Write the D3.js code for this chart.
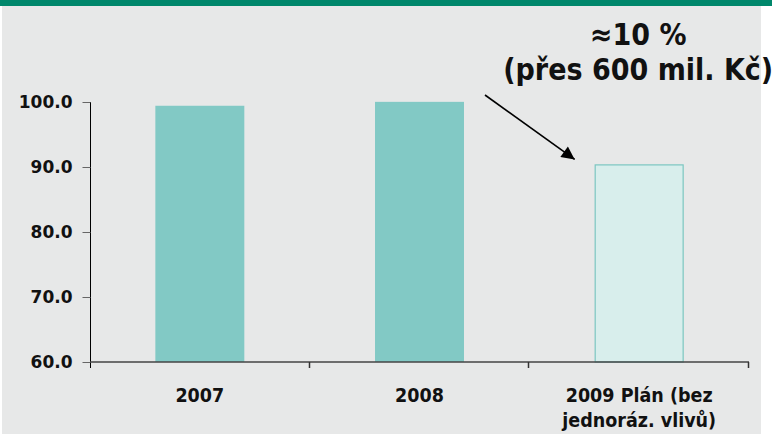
<!DOCTYPE html>
<html lang='cs'>
<head>
  <meta charset='UTF-8'>
  <title>Plán 2009</title>
  <style>
  body { margin: 0; background: #fff; }
  .ylab { font-family: 'DejaVu Sans', sans-serif; font-weight: bold; font-size: 17px; fill: #111; }
  .xlab { font-family: 'DejaVu Sans Condensed', 'DejaVu Sans', sans-serif; font-weight: bold; font-size: 19.5px; fill: #111; }
  .note { font-family: 'DejaVu Sans Condensed', 'DejaVu Sans', sans-serif; font-weight: bold; font-size: 30px; fill: #111; }
  </style>
  <script src='https://d3js.org/d3.v7.min.js'></script>
</head>
<body>
  <script>

  // data
  var categories = ['2007', '2008', '2009 Plán (bez jednoráz. vlivů)'];
  var catLines = [['2007'], ['2008'], ['2009 Plán (bez', 'jednoráz. vlivů)']];
  var values = [99.5, 100.1, 90.4];
  var planned = [false, false, true];
  var yTicks = [60, 70, 80, 90, 100];
  var noteLines = ['≈10 %', '(přes 600 mil. Kč)'];

  var W = 772, H = 434;
  var svg = d3.select('body').append('svg').attr('width', W).attr('height', H);

  // background panel + green band
  svg.append('rect').attr('x', 2).attr('y', 0).attr('width', 759).attr('height', H).attr('fill', '#e7e8e8');
  svg.append('rect').attr('x', 0).attr('y', 0).attr('width', W).attr('height', 6).attr('fill', '#00876b');

  var x = d3.scaleBand().domain(categories).range([90, 749]).paddingInner(0.595).paddingOuter(0.2975);
  var y = d3.scaleLinear().domain([60, 100]).range([362, 102]);

  // bars
  svg.selectAll('.bar')
    .data(values)
    .enter()
    .append('rect')
    .attr('class', 'bar')
    .attr('x', function (d, i) { return x(categories[i]) + (planned[i] ? 0.5 : 0); })
    .attr('y', function (d) { return y(d) + 0.5; })
    .attr('width', function (d, i) { return x.bandwidth() - (planned[i] ? 1 : 0); })
    .attr('height', function (d) { return y(60) - y(d) - 0.5; })
    .attr('fill', function (d, i) { return planned[i] ? '#d8eeec' : '#82c9c5'; })
    .attr('stroke', function (d, i) { return planned[i] ? '#7cc6c1' : 'none'; })
    .attr('stroke-width', 1.2);

  // y axis
  var gy = svg.append('g').attr('transform', 'translate(90.5,0)');
  gy.append('line').attr('y1', y(100)).attr('y2', y(60) + 6).attr('stroke', '#000');
  gy.selectAll('.tk').data(yTicks).enter().append('line')
    .attr('x1', -8).attr('x2', 0)
    .attr('y1', function (d) { return Math.round(y(d)) + 0.5; })
    .attr('y2', function (d) { return Math.round(y(d)) + 0.5; })
    .attr('stroke', '#666');
  gy.selectAll('.ylab').data(yTicks).enter().append('text')
    .attr('class', 'ylab')
    .attr('x', -18).attr('y', function (d) { return y(d) + 6; })
    .attr('text-anchor', 'end')
    .text(function (d) { return d.toFixed(1); });

  // x axis
  var gx = svg.append('g');
  gx.append('line').attr('x1', 90).attr('x2', 749).attr('y1', 362).attr('y2', 362).attr('stroke', '#444').attr('stroke-width', 1.5);
  var edges = categories.map(function (c) { return x(c) + x.bandwidth() + x.step() * x.paddingInner() / 2; });
  gx.selectAll('.xt').data(edges).enter().append('line')
    .attr('x1', function (d) { return Math.round(d) - 0.5; })
    .attr('x2', function (d) { return Math.round(d) - 0.5; })
    .attr('y1', 362).attr('y2', 368)
    .attr('stroke', '#333').attr('stroke-width', 1.5);
  gx.selectAll('.xlab').data(catLines).enter().append('text')
    .attr('class', 'xlab')
    .attr('text-anchor', 'middle')
    .attr('x', function (d, i) { return x(categories[i]) + x.bandwidth() / 2; })
    .attr('y', 402)
    .each(function (lines) {
      var t = d3.select(this);
      lines.forEach(function (s, k) {
        t.append('tspan').attr('x', t.attr('x')).attr('dy', k === 0 ? 0 : 25).text(s);
      });
    });

  // annotation
  var cx = x(categories[2]) + x.bandwidth() / 2 - 1;
  svg.append('text').attr('class', 'note').attr('text-anchor', 'middle')
    .attr('x', cx).attr('y', 45)
    .selectAll('tspan').data(noteLines).enter().append('tspan')
    .attr('x', cx).attr('dy', function (d, i) { return i === 0 ? 0 : 35; })
    .text(function (d) { return d; });

  svg.append('defs').append('marker')
    .attr('id', 'ah').attr('viewBox', '0 0 10 10').attr('refX', 10).attr('refY', 5)
    .attr('markerWidth', 15).attr('markerHeight', 13).attr('markerUnits', 'userSpaceOnUse')
    .attr('orient', 'auto')
    .append('path').attr('d', 'M0,0L10,5L0,10Z').attr('fill', '#000');
  svg.append('line')
    .attr('x1', 485).attr('y1', 95)
    .attr('x2', x(categories[2]) - 20).attr('y2', y(values[2]) - 5)
    .attr('stroke', '#000').attr('stroke-width', 1.6)
    .attr('marker-end', 'url(#ah)');
  </script>
</body>
</html>
